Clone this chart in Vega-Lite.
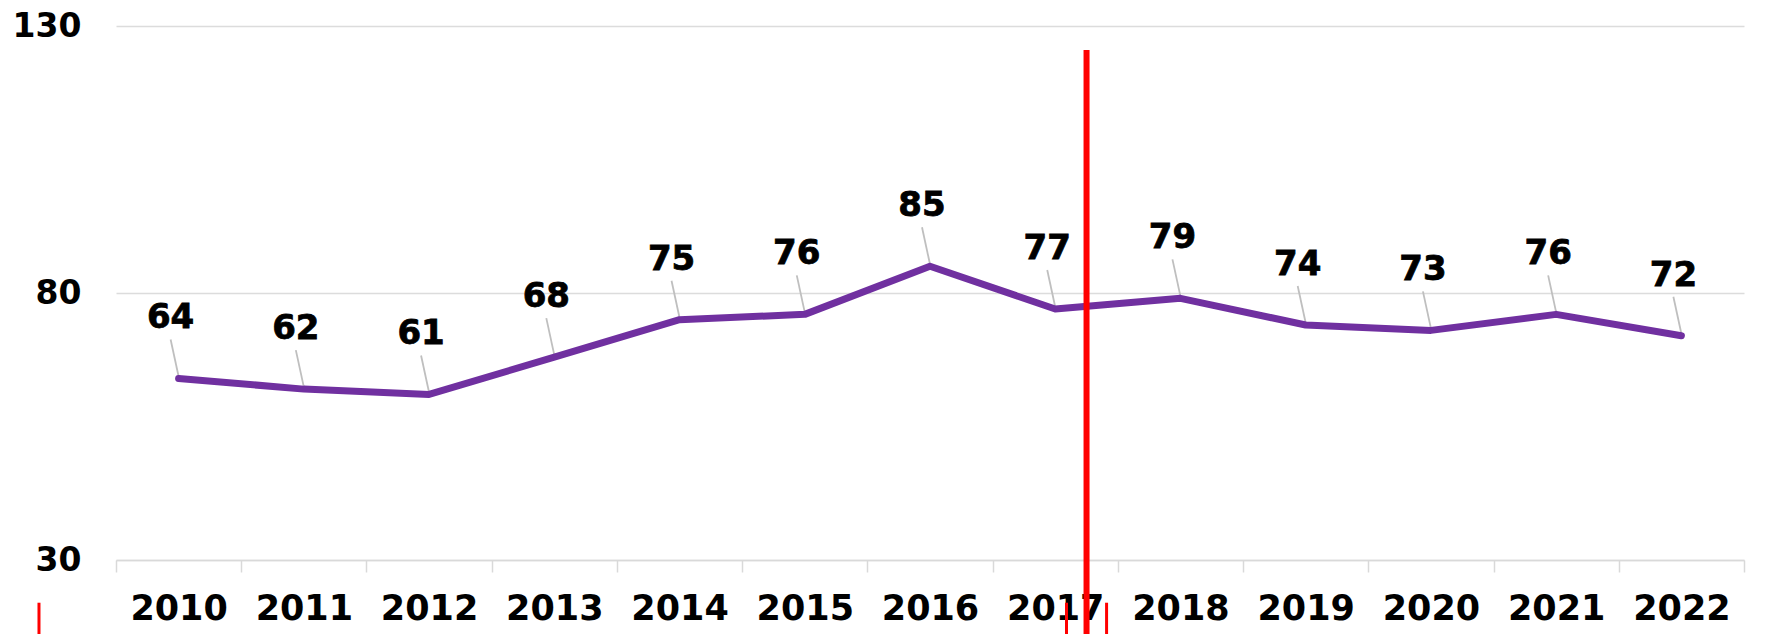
{
  "$schema": "https://vega.github.io/schema/vega-lite/v6.json",
  "width": 1628,
  "height": 534,
  "autosize": {"type": "none"},
  "padding": {"left": 116, "top": 26, "right": 29, "bottom": 74},
  "background": "white",
  "config": {"view": {"stroke": null}, "font": "DejaVu Sans"},
  "datasets": {
    "series": [
      {"year": "2010", "value": 64},
      {"year": "2011", "value": 62},
      {"year": "2012", "value": 61},
      {"year": "2013", "value": 68},
      {"year": "2014", "value": 75},
      {"year": "2015", "value": 76},
      {"year": "2016", "value": 85},
      {"year": "2017", "value": 77},
      {"year": "2018", "value": 79},
      {"year": "2019", "value": 74},
      {"year": "2020", "value": 73},
      {"year": "2021", "value": 76},
      {"year": "2022", "value": 72}
    ],
    "marker2017": [{"year": "2017"}],
    "marker2010": [{"year": "2010"}]
  },
  "layer": [
    {
      "data": {"name": "series"},
      "encoding": {
        "x": {
          "field": "year",
          "type": "ordinal",
          "bandPosition": 0.5,
          "scale": {"type": "band", "paddingInner": 0, "paddingOuter": 0},
          "axis": {
            "title": null,
            "labelAngle": 0,
            "labelFont": "DejaVu Sans",
            "labelFontSize": 35,
            "labelFontWeight": "bold",
            "labelColor": "#000000",
            "domainColor": "#d9d9d9",
            "domainWidth": 1.5,
            "tickColor": "#d9d9d9",
            "tickWidth": 1.5,
            "tickSize": 12,
            "tickBand": "extent",
            "labelPadding": 19,
            "grid": false
          }
        },
        "y": {
          "field": "value",
          "type": "quantitative",
          "scale": {"domain": [30, 130], "nice": false, "zero": false},
          "axis": {
            "title": null,
            "values": [30, 80, 130],
            "labelFont": "DejaVu Sans",
            "labelFontSize": 33,
            "labelFontWeight": "bold",
            "labelColor": "#000000",
            "labelPadding": 35,
            "ticks": false,
            "domain": false,
            "gridColor": "#dcdcdc",
            "gridWidth": 1.5
          }
        }
      },
      "layer": [
        {
          "mark": {
            "type": "point",
            "shape": "M0,-0.1L-0.4,-1.95",
            "size": 1600,
            "filled": false,
            "stroke": "#bfbfbf",
            "strokeWidth": 1.8,
            "opacity": 1
          }
        },
        {
          "mark": {
            "type": "line",
            "color": "#7030a0",
            "strokeWidth": 7,
            "strokeCap": "round",
            "strokeJoin": "round"
          },
          "encoding": {"strokeWidth": {"value": 7}}
        },
        {
          "mark": {
            "type": "text",
            "dx": -8,
            "dy": -60,
            "fontSize": 34,
            "fontWeight": "bold",
            "font": "DejaVu Sans",
            "color": "#000000",
            "stroke": "#000000",
            "strokeWidth": 0.8,
            "baseline": "middle",
            "align": "center"
          },
          "encoding": {"text": {"field": "value", "type": "quantitative"}}
        }
      ]
    },
    {
      "data": {"name": "marker2017"},
      "mark": {"type": "rule", "color": "#ff0000", "strokeWidth": 6, "clip": false},
      "encoding": {
        "x": {"field": "year", "type": "ordinal", "bandPosition": 0.75},
        "y": {"datum": 125.5, "type": "quantitative"},
        "y2": {"datum": 15}
      }
    },
    {
      "data": {"name": "marker2017"},
      "mark": {"type": "rule", "color": "#ff0000", "strokeWidth": 3, "clip": false},
      "encoding": {
        "x": {"field": "year", "type": "ordinal", "bandPosition": 0.59},
        "y": {"datum": 22, "type": "quantitative"},
        "y2": {"datum": 15}
      }
    },
    {
      "data": {"name": "marker2017"},
      "mark": {"type": "rule", "color": "#ff0000", "strokeWidth": 3, "clip": false},
      "encoding": {
        "x": {"field": "year", "type": "ordinal", "bandPosition": 0.91},
        "y": {"datum": 22, "type": "quantitative"},
        "y2": {"datum": 15}
      }
    },
    {
      "data": {"name": "marker2010"},
      "mark": {"type": "rule", "color": "#ff0000", "strokeWidth": 3, "clip": false},
      "encoding": {
        "x": {"field": "year", "type": "ordinal", "bandPosition": -0.615},
        "y": {"datum": 22, "type": "quantitative"},
        "y2": {"datum": 15}
      }
    }
  ]
}
